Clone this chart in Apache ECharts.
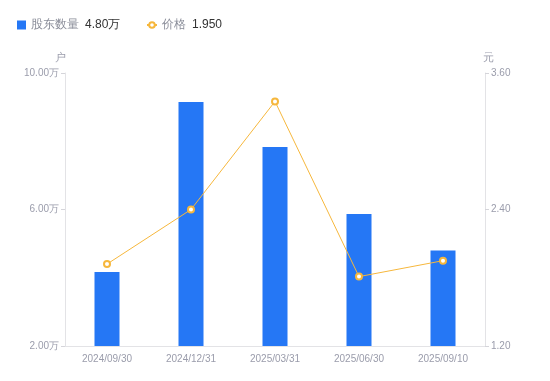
<!DOCTYPE html>
<html>
<head>
<meta charset="utf-8">
<script src="https://cdn.jsdelivr.net/npm/echarts@6/dist/echarts.min.js"></script>
<style>
html,body{margin:0;padding:0;background:#fff;}
#echarts{width:550px;height:381px;}
</style>
</head>
<body>
<div id="echarts"></div>
<script>
// 日期
var dates = ['2024/09/30', '2024/12/31', '2025/03/31', '2025/06/30', '2025/09/10'];
// 股东数量(户)
var holders = [41700, 91500, 78300, 58700, 48000];
// 价格(元)
var prices = [1.92, 2.40, 3.35, 1.81, 1.95];
// 轴刻度范围
var leftAxis = [20000, 100000, 40000];
var rightAxis = [1.2, 3.6, 1.2];

var legendVal = {
    '股东数量': (holders[holders.length - 1] / 10000).toFixed(2) + '万',
    '价格': prices[prices.length - 1].toFixed(3)
};
var legendText = {
    rich: {
        n: {color: '#8a8d99', fontSize: 12, padding: [0, 6, 0, 0]},
        v: {color: '#333', fontSize: 12}
    }
};
function legendFmt(name) {
    return '{n|' + name + '}{v|' + legendVal[name] + '}';
}

var myChart = echarts.init(document.getElementById('echarts'));
var option = {
    animation: false,
    legend: [{
        left: 12,
        top: 14,
        itemWidth: 9,
        itemHeight: 9,
        data: [{name: '股东数量', icon: 'rect'}],
        formatter: legendFmt,
        textStyle: legendText
    }, {
        left: 141,
        top: 14,
        itemWidth: 10,
        itemHeight: 7,
        data: ['价格'],
        formatter: legendFmt,
        textStyle: legendText
    }],
    grid: {left: 65, right: 65, top: 73, bottom: 35},
    xAxis: [{
        type: 'category',
        data: dates,
        axisLine: {lineStyle: {color: '#e3e3e6'}},
        axisTick: {show: false},
        axisLabel: {color: '#9a9cab', fontSize: 10, margin: 8}
    }],
    yAxis: [{
        type: 'value',
        name: '户',
        nameGap: 10,
        nameTextStyle: {color: '#9a9cab', fontSize: 11, padding: [0, 10, 0, 0]},
        min: leftAxis[0],
        max: leftAxis[1],
        interval: leftAxis[2],
        splitLine: {show: false},
        axisLine: {show: true, lineStyle: {color: '#e3e3e6'}},
        axisTick: {show: true, length: 4, lineStyle: {color: '#d5d5da'}},
        axisLabel: {
            color: '#9a9cab', fontSize: 10, margin: 6,
            formatter: function (v) { return (v / 10000).toFixed(2) + '万'; }
        }
    }, {
        type: 'value',
        name: '元',
        nameGap: 10,
        nameTextStyle: {color: '#9a9cab', fontSize: 11, padding: [0, 0, 0, 6]},
        min: rightAxis[0],
        max: rightAxis[1],
        interval: rightAxis[2],
        splitLine: {show: false},
        axisLine: {show: true, lineStyle: {color: '#e3e3e6'}},
        axisTick: {show: true, length: 4, lineStyle: {color: '#d5d5da'}},
        axisLabel: {
            color: '#9a9cab', fontSize: 10, margin: 6,
            formatter: function (v) { return v.toFixed(2); }
        }
    }],
    series: [{
        name: '股东数量',
        type: 'bar',
        yAxisIndex: 0,
        barWidth: 25,
        itemStyle: {color: '#2577f5'},
        data: holders
    }, {
        name: '价格',
        type: 'line',
        yAxisIndex: 1,
        symbol: 'emptyCircle',
        symbolSize: 6,
        lineStyle: {color: '#f6b73c', width: 1},
        itemStyle: {color: '#f6b73c', borderWidth: 2},
        data: prices
    }]
};
myChart.setOption(option);
</script>
</body>
</html>
